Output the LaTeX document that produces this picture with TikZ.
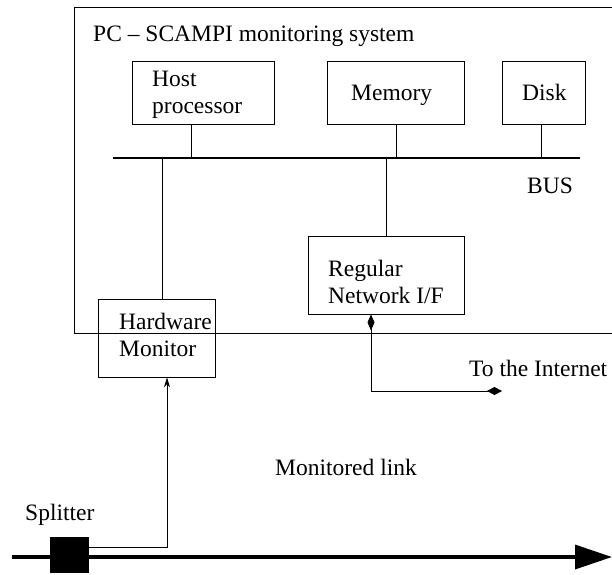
\documentclass[tikz,border=0pt]{standalone}
\usepackage{fontspec}
\setmainfont{Liberation Serif}
\usetikzlibrary{arrows.meta, positioning}

\begin{document}
\begin{tikzpicture}[x=1pt, y=-1pt, font=\fontsize{23.5}{27}\selectfont,
  box/.style={draw, line width=0.8pt, inner sep=0pt},
  txt/.style={anchor=base west, align=left, inner sep=0pt},
  wire/.style={line width=0.8pt},
  mon/.style={line width=0.8pt, -{Stealth[length=10pt, width=6pt]}},
  lnk/.style={line width=3.5pt, -{Triangle[length=37pt, width=24pt]}}]
  \useasboundingbox (0,0) rectangle (612,574);
  % monitoring PC
  \node[box, anchor=north west, minimum width=545pt, minimum height=326pt] (pc) at (73.5,7) {};
  \node[txt] (pct) at (93,41.5) {PC -- SCAMPI monitoring system};
  \node[box, minimum width=142pt, minimum height=63pt] (host) at (203,92.5) {};
  \node[box, minimum width=137pt, minimum height=63pt] (mem) at (395.5,92.5) {};
  \node[box, minimum width=83pt, minimum height=63pt] (disk) at (543.5,92.5) {};
  \node[box, minimum width=156pt, minimum height=78pt] (net) at (386,275) {};
  \node[box, minimum width=117pt, minimum height=78pt] (hw) at (156.5,338) {};
  \node[txt] (hostt) at (152,113) {Host\\processor};
  \node[txt] (memt) at (351,100) {Memory};
  \node[txt] (diskt) at (522,100) {Disk};
  \node[txt] (nett) at (328,303) {Regular\\Network I/F};
  \node[txt] (hwt) at (119,356) {Hardware\\Monitor};
  % bus
  \coordinate (busL) at (113,158);
  \coordinate (busR) at (580,158);
  \draw[line width=2pt] (busL) -- (busR);
  \node[txt] (bust) at (527,193) {BUS};
  \coordinate (b1) at (191,158);
  \coordinate (b2) at (162,158);
  \coordinate (b3) at (396,158);
  \coordinate (b4) at (386,158);
  \coordinate (b5) at (541,158);
  \draw[wire] (b1) -- (b1 |- host.south);
  \draw[wire] (b3) -- (b3 |- mem.south);
  \draw[wire] (b5) -- (b5 |- disk.south);
  \draw[wire] (b2) -- (b2 |- hw.north);
  \draw[wire] (b4) -- (b4 |- net.north);
  % internet
  \coordinate (inet) at (502,391);
  \draw[wire, {Diamond[length=16pt, width=7pt]}-{Diamond[length=15pt, width=8pt]}] ([xshift=-15pt]net.south) |- (inet);
  \node[txt] (inett) at (469,376) {To the Internet};
  % monitored link
  \coordinate (lkL) at (12,557);
  \coordinate (lkR) at (612,557);
  \draw[lnk] (lkL) -- (lkR);
  \node[fill=black, minimum width=39pt, minimum height=36pt, inner sep=0pt] (split) at (69.5,555) {};
  \draw[mon] ([yshift=8pt]split.east) -| ([xshift=10.5pt]hw.south);
  \node[txt] (splitt) at (25,520) {Splitter};
  \node[txt] (lkt) at (275,475) {Monitored link};
\end{tikzpicture}
\end{document}
